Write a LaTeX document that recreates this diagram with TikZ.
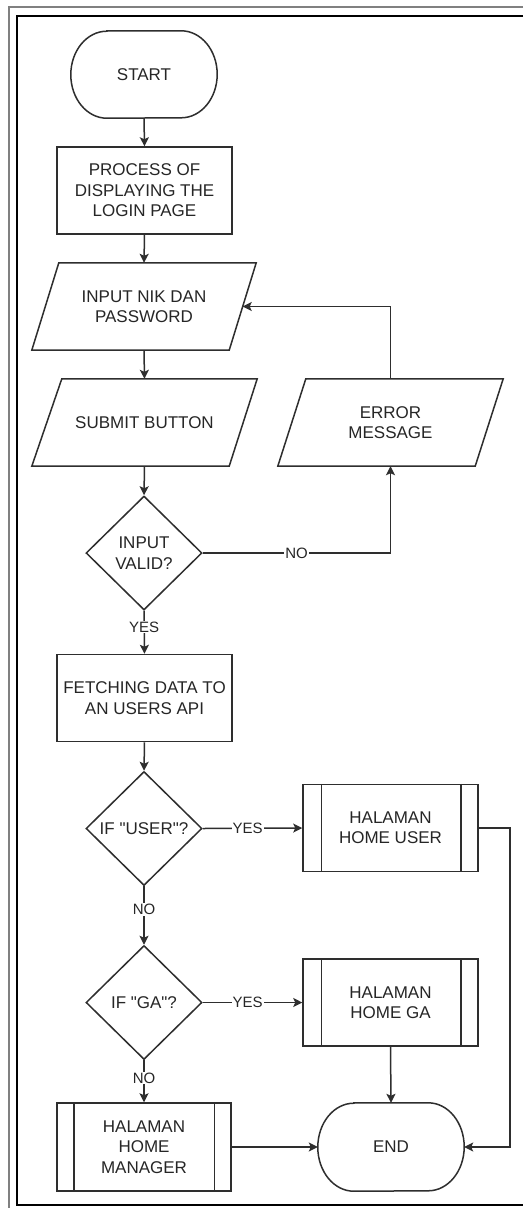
\documentclass[tikz,border=0pt]{standalone}
\usepackage{fontspec}
\setmainfont{Liberation Sans}[Ligatures=TeXOff]
\usetikzlibrary{shapes.geometric,arrows.meta,calc}
\definecolor{ln}{HTML}{2E2E2E}
\definecolor{tx}{HTML}{262626}
\tikzset{
  base/.style={inner sep=0pt, align=center, text=tx, font=\fontsize{17pt}{20.4pt}\selectfont},
  box/.style={base, draw=ln, line width=1.5pt, minimum width=175pt, minimum height=87pt},
  ghost/.style={base, draw=none, minimum height=87pt},
  dia/.style={base, draw=ln, line width=1.5pt, diamond, minimum width=116pt, minimum height=114pt},
  shp/.style={draw=ln, line width=1.5pt},
  conn/.style={draw=ln, line width=1.5pt, -{Stealth[length=9pt,width=9pt,inset=2pt]}},
  plain/.style={draw=ln, line width=1.5pt},
  lbl/.style={fill=white, inner sep=1pt, text=tx, font=\fontsize{15pt}{18pt}\selectfont}
}
\begin{document}
\begin{tikzpicture}[x=1pt,y=1pt]
\useasboundingbox (0,0) rectangle (523,-1208);
\fill[white] (0,0) rectangle (523,-1208);
% frames
\draw[black!50, line width=2pt] (523,-7) -- (9,-7) -- (9,-1208);
\draw[black, line width=1.6pt] (523,-16) -- (17,-16) -- (17,-1205) -- (523,-1205);

% start terminal
\node[ghost, minimum width=146pt] (start) at (144,-74.5) {START};
\draw[shp] ([xshift=36pt]start.north west) -- ([xshift=-36pt]start.north east)
  arc[start angle=90,end angle=-90,x radius=36pt,y radius=43.5pt]
  -- ([xshift=36pt]start.south west)
  arc[start angle=270,end angle=90,x radius=36pt,y radius=43.5pt] -- cycle;

\node[box] (proc) at (144.5,-190.5) {PROCESS OF\\DISPLAYING THE\\LOGIN PAGE};

% input parallelogram
\node[ghost, minimum width=224pt] (inp) at (144,-306.5) {INPUT NIK DAN\\PASSWORD};
\draw[shp] ([xshift=27pt]inp.north west) -- (inp.north east) -- ([xshift=-27pt]inp.south east) -- (inp.south west) -- cycle;
\coordinate (inpR) at ($([xshift=-13.5pt]inp.east)$);

% submit
\node[ghost, minimum width=225pt] (sub) at (144.5,-422.5) {SUBMIT BUTTON};
\draw[shp] ([xshift=30pt]sub.north west) -- (sub.north east) -- ([xshift=-28pt]sub.south east) -- (sub.south west) -- cycle;

% error
\node[ghost, minimum width=225pt] (err) at (390.5,-422.5) {ERROR\\MESSAGE};
\draw[shp] ([xshift=28pt]err.north west) -- (err.north east) -- ([xshift=-28pt]err.south east) -- (err.south west) -- cycle;

\node[dia] (valid) at (144,-553) {INPUT\\VALID?};
\node[box] (fetch) at (144.5,-698) {FETCHING DATA TO\\AN USERS API};
\node[dia] (user) at (144,-828.5) {IF "USER"?};
\node[box] (hhu) at (390.5,-828) {HALAMAN\\HOME USER};
\draw[plain] ([xshift=19pt]hhu.north west) -- ([xshift=19pt]hhu.south west);
\draw[plain] ([xshift=-18pt]hhu.north east) -- ([xshift=-18pt]hhu.south east);
\node[dia] (ga) at (144,-1002.5) {IF "GA"?};
\node[box] (hhga) at (390.5,-1002.5) {HALAMAN\\HOME GA};
\draw[plain] ([xshift=19pt]hhga.north west) -- ([xshift=19pt]hhga.south west);
\draw[plain] ([xshift=-18pt]hhga.north east) -- ([xshift=-18pt]hhga.south east);
\node[box, minimum width=174pt, minimum height=88pt] (hhm) at (144,-1147) {HALAMAN\\HOME\\MANAGER};
\draw[plain] ([xshift=17.5pt]hhm.north west) -- ([xshift=17.5pt]hhm.south west);
\draw[plain] ([xshift=-17.5pt]hhm.north east) -- ([xshift=-17.5pt]hhm.south east);

% end terminal
\node[ghost, minimum width=146pt, minimum height=88pt] (end) at (391,-1147) {END};
\draw[shp] ([xshift=36pt]end.north west) -- ([xshift=-36pt]end.north east)
  arc[start angle=90,end angle=-90,x radius=36pt,y radius=44pt]
  -- ([xshift=36pt]end.south west)
  arc[start angle=270,end angle=90,x radius=36pt,y radius=44pt] -- cycle;

% connectors
\draw[conn] (start.south) -- (proc.north);
\draw[conn] (proc.south) -- (inp.north);
\draw[conn] (inp.south) -- (sub.north);
\draw[conn] (sub.south) -- (valid.north);
\draw[conn] (valid.east) -| node[lbl, pos=0.25] {NO} (err.south);
\draw[conn] (err.north) |- (inpR);
\draw[conn] (valid.south) -- node[lbl, pos=0.38] {YES} (fetch.north);
\draw[conn] (fetch.south) -- (user.north);
\draw[conn] (user.east) -- node[lbl, pos=0.45] {YES} (hhu.west);
\draw[conn] (user.south) -- node[lbl, pos=0.4] {NO} (ga.north);
\draw[conn] (ga.east) -- node[lbl, pos=0.45] {YES} (hhga.west);
\draw[conn] (ga.south) -- node[lbl, pos=0.42] {NO} (hhm.north);
\draw[conn] (hhga.south) -- (end.north);
\draw[conn] (hhm.east) -- (end.west);
\coordinate (loop) at (510,-828);
\draw[conn] (hhu.east) -- (loop) |- (end.east);
\end{tikzpicture}
\end{document}
